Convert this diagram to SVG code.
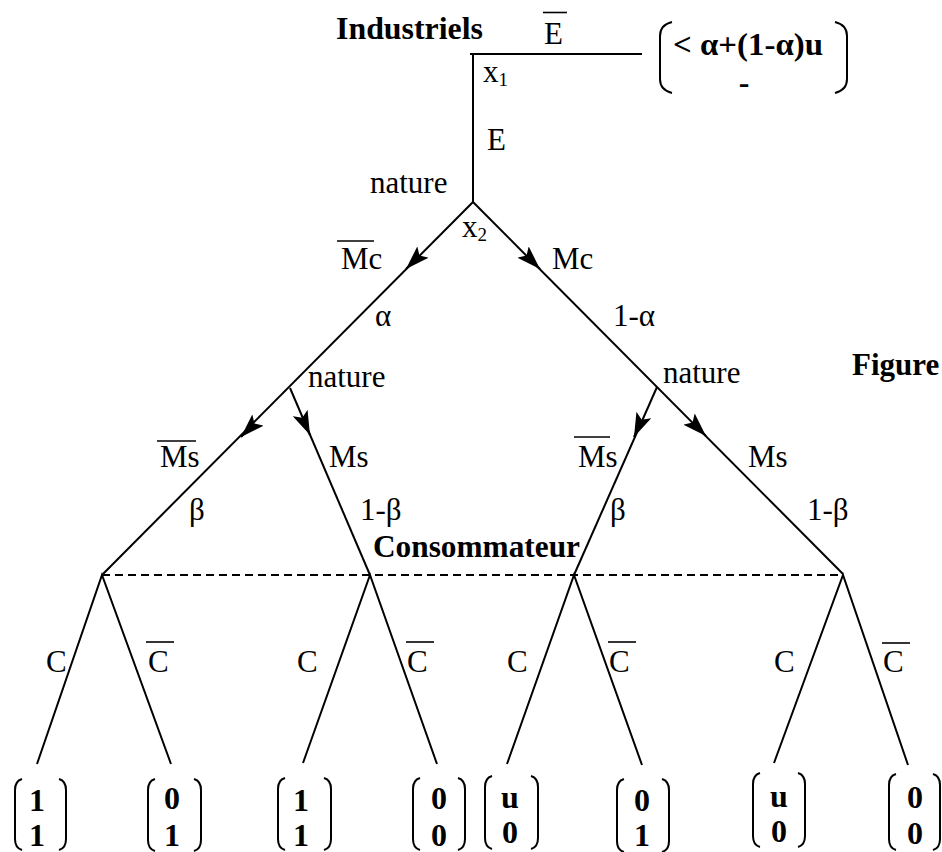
<svg xmlns="http://www.w3.org/2000/svg" width="942" height="852" viewBox="0 0 942 852">
<style>
  .ln { stroke:#000; stroke-width:2; fill:none; }
  .ov { stroke:#000; stroke-width:1.6; fill:none; }
  .br { stroke:#000; stroke-width:2; fill:none; }
  .dash { stroke:#000; stroke-width:1.8; stroke-dasharray:8 5; fill:none; }
  .t { font-family:"Liberation Serif","Times New Roman",serif; font-size:31px; fill:#000; }
  .b { font-family:"Liberation Serif","Times New Roman",serif; font-size:31px; font-weight:bold; fill:#000; }
  .p { font-family:"Liberation Serif","Times New Roman",serif; font-size:32px; font-weight:bold; fill:#000; text-anchor:middle; }
  .sub { font-size:19px; }
</style>
<defs>
  <marker id="arr" markerUnits="userSpaceOnUse" viewBox="0 0 24 16" refX="24" refY="8" markerWidth="24" markerHeight="16" orient="auto">
    <path d="M0,0 L24,8 L0,16 L5,8 z" fill="#000"/>
  </marker>
</defs>

<g id="connectors">
  <path class="ln" d="M470,54 L642,54"/>
  <path class="ln" d="M473,54 L473,202"/>
  <path class="ln" d="M473,202 L102,575"/>
  <path class="ln" d="M473,202 L843,574"/>
  <path class="ln" d="M290,388 L370,575"/>
  <path class="ln" d="M657,387 L574,575"/>
  <path class="dash" d="M102,575 L843,575"/>
  <path class="ln" d="M37,764 L102,575 L171,764"/>
  <path class="ln" d="M303,763 L370,575 L437,764"/>
  <path class="ln" d="M507,764 L574,575 L642,765"/>
  <path class="ln" d="M774,763 L843,575 L908,765"/>
  <path class="ln" d="M416,259 L406,269" marker-end="url(#arr)"/>
  <path class="ln" d="M530,259 L540,269" marker-end="url(#arr)"/>
  <path class="ln" d="M251,427 L241,437" marker-end="url(#arr)"/>
  <path class="ln" d="M306,426 L310,435" marker-end="url(#arr)"/>
  <path class="ln" d="M638,428 L634,437" marker-end="url(#arr)"/>
  <path class="ln" d="M696,426 L706,436" marker-end="url(#arr)"/>
</g>

<g id="node-industriels">
  <text class="b" x="336" y="39" textLength="147" lengthAdjust="spacingAndGlyphs">Industriels</text>
  <text class="t" x="483" y="82">x<tspan class="sub" dy="4">1</tspan></text>
  <text class="t" x="544" y="44">E</text>
  <line class="ov" x1="543" y1="12.5" x2="567" y2="12.5"/>
  <text class="t" x="487" y="150">E</text>
</g>

<g id="payoff-top">
  <path class="br" d="M672,22 Q660,25 660,36 L660,79 Q660,90 672,93"/>
  <path class="br" d="M835,22 Q847,25 847,36 L847,79 Q847,90 835,93"/>
  <text class="b" x="673" y="55" style="font-size:32px" textLength="150" lengthAdjust="spacingAndGlyphs">&lt; α+(1-α)u</text>
  <text class="p" x="744" y="93">-</text>
</g>

<g id="node-nature-root">
  <text class="t" x="370" y="193">nature</text>
  <text class="t" x="462" y="237">x<tspan class="sub" dy="4">2</tspan></text>
  <text class="t" x="341" y="269">Mc</text>
  <line class="ov" x1="337" y1="241" x2="374" y2="241"/>
  <text class="t" x="552" y="269">Mc</text>
  <text class="t" x="375" y="326">α</text>
  <text class="t" x="613" y="326">1-α</text>
</g>

<g id="node-nature-left">
  <text class="t" x="308" y="387">nature</text>
  <text class="t" x="160" y="467">Ms</text>
  <line class="ov" x1="157" y1="441" x2="196" y2="441"/>
  <text class="t" x="329" y="467">Ms</text>
  <text class="t" x="189" y="520">β</text>
  <text class="t" x="360" y="520">1-β</text>
</g>

<g id="node-nature-right">
  <text class="t" x="663" y="383">nature</text>
  <text class="t" x="578" y="467">Ms</text>
  <line class="ov" x1="574" y1="437" x2="610" y2="437"/>
  <text class="t" x="748" y="467">Ms</text>
  <text class="t" x="610" y="520">β</text>
  <text class="t" x="807" y="520">1-β</text>
</g>

<g id="figure-label">
  <text class="b" x="852" y="375">Figure</text>
</g>

<g id="node-consommateur">
  <text class="b" x="373" y="557" textLength="207" lengthAdjust="spacingAndGlyphs">Consommateur</text>
  <text class="t" x="46" y="672">C</text>
  <text class="t" x="148" y="672">C</text>
  <line class="ov" x1="146" y1="642" x2="174" y2="642"/>
  <text class="t" x="297" y="672">C</text>
  <text class="t" x="407" y="672">C</text>
  <line class="ov" x1="406" y1="642" x2="434" y2="642"/>
  <text class="t" x="507" y="672">C</text>
  <text class="t" x="609" y="672">C</text>
  <line class="ov" x1="608" y1="642" x2="636" y2="642"/>
  <text class="t" x="774" y="672">C</text>
  <text class="t" x="883" y="672">C</text>
  <line class="ov" x1="882" y1="643" x2="910" y2="643"/>
</g>

<g id="leaf-1">
  <path class="br" d="M22,779 Q15,781 15,790 L15,839 Q15,848 22,850"/>
  <path class="br" d="M59,779 Q66,781 66,790 L66,839 Q66,848 59,850"/>
  <text class="p" x="37" y="811">1</text><text class="p" x="37" y="846">1</text>
</g>
<g id="leaf-2">
  <path class="br" d="M155,779 Q148,781 148,790 L148,840 Q148,849 155,851"/>
  <path class="br" d="M194,779 Q201,781 201,790 L201,840 Q201,849 194,851"/>
  <text class="p" x="172" y="809">0</text><text class="p" x="172" y="846">1</text>
</g>
<g id="leaf-3">
  <path class="br" d="M285,778 Q278,780 278,789 L278,839 Q278,848 285,850"/>
  <path class="br" d="M324,778 Q331,780 331,789 L331,839 Q331,848 324,850"/>
  <text class="p" x="301" y="811">1</text><text class="p" x="301" y="846">1</text>
</g>
<g id="leaf-4">
  <path class="br" d="M420,778 Q413,780 413,789 L413,839 Q413,848 420,850"/>
  <path class="br" d="M458,778 Q465,780 465,789 L465,839 Q465,848 458,850"/>
  <text class="p" x="439" y="809">0</text><text class="p" x="439" y="846">0</text>
</g>
<g id="leaf-5">
  <path class="br" d="M492,776 Q485,778 485,787 L485,838 Q485,847 492,849"/>
  <path class="br" d="M531,776 Q538,778 538,787 L538,838 Q538,847 531,849"/>
  <text class="p" x="510" y="808">u</text><text class="p" x="510" y="843">0</text>
</g>
<g id="leaf-6">
  <path class="br" d="M624,779 Q617,781 617,790 L617,841 Q617,850 624,852"/>
  <path class="br" d="M662,779 Q669,781 669,790 L669,841 Q669,850 662,852"/>
  <text class="p" x="642" y="811">0</text><text class="p" x="642" y="846">1</text>
</g>
<g id="leaf-7">
  <path class="br" d="M760,773 Q753,775 753,784 L753,836 Q753,845 760,847"/>
  <path class="br" d="M798,773 Q805,775 805,784 L805,836 Q805,845 798,847"/>
  <text class="p" x="779" y="807">u</text><text class="p" x="779" y="842">0</text>
</g>
<g id="leaf-8">
  <path class="br" d="M896,774 Q889,776 889,785 L889,839 Q889,848 896,850"/>
  <path class="br" d="M933,774 Q940,776 940,785 L940,839 Q940,848 933,850"/>
  <text class="p" x="915" y="808">0</text><text class="p" x="915" y="844">0</text>
</g>
</svg>
